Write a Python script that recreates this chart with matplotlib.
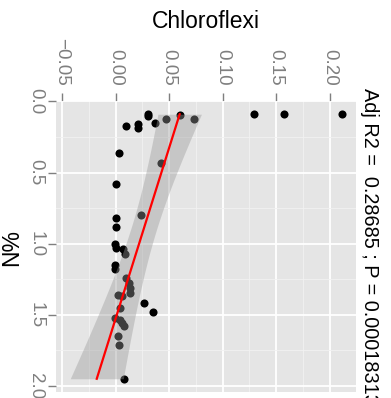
import numpy as np
import matplotlib
matplotlib.use("Agg")
import matplotlib.pyplot as plt
from matplotlib.ticker import FixedLocator

plt.rcParams["font.family"] = ["Liberation Sans", "DejaVu Sans"]

# relative abundance of Chloroflexi vs soil N%
abund = [0.1295, 0.1576, 0.2119, 0.0606, 0.030, 0.030, 0.073, 0.047, 0.0365,
         0.021, 0.021, 0.0094, 0.003, 0.0428, 0.0, 0.024, 0.0, 0.0,
         -0.001, 0.0006, 0.0069, 0.0084, -0.001, -0.001, 0.010, 0.0125,
         0.013, 0.0135, 0.002, 0.0063, 0.027, 0.035, 0.0044, -0.001,
         0.0037, 0.0063, 0.0075, 0.002, 0.003, 0.0075]
n_pct = [0.09, 0.09, 0.09, 0.098, 0.09, 0.10, 0.126, 0.126, 0.15,
         0.157, 0.19, 0.17, 0.36, 0.43, 0.578, 0.80, 0.82, 0.88,
         1.00, 1.03, 1.04, 1.07, 1.15, 1.18, 1.24, 1.28,
         1.31, 1.35, 1.36, 1.37, 1.42, 1.48, 1.45, 1.52,
         1.54, 1.56, 1.58, 1.65, 1.71, 1.95]

xticks = [-0.05, 0.00, 0.05, 0.10, 0.15, 0.20]
xticklabels = ["\u22120.05", "0.00", "0.05", "0.10", "0.15", "0.20"]
yticks = [0.0, 0.5, 1.0, 1.5, 2.0]
yticklabels = ["0.0", "0.5", "1.0", "1.5", "2.0"]
stats_label = "Adj R2 =  0.28685 ; P = 0.00018313"

x = np.array(abund)
N = np.array(n_pct)

# linear fit abund ~ N with 95% confidence band
b, a = np.polyfit(N, x, 1)
n = len(N)
resid = x - (a + b * N)
s = np.sqrt(np.sum(resid ** 2) / (n - 2))
sxx = np.sum((N - N.mean()) ** 2)
t = 2.024
ngrid = np.linspace(N.min(), N.max(), 80)
fit = a + b * ngrid
se = s * np.sqrt(1 / n + (ngrid - N.mean()) ** 2 / sxx)

fig = plt.figure(figsize=(3.91, 3.98), dpi=100)
ax = fig.add_axes([56 / 391, 6 / 398, 300 / 391, 291 / 398])
ax.set_facecolor("#E5E5E5")

ax.scatter(x, N, s=34, color="black", zorder=3, linewidths=0)
ax.fill_betweenx(ngrid, fit - t * se, fit + t * se, color="#999999", alpha=0.4,
                 linewidth=0, zorder=4)
ax.plot(fit, ngrid, color="red", linewidth=1.6, zorder=5)

ax.set_xlim(-0.0557, 0.2247)
ax.set_ylim(2.043, -0.003)

ax.xaxis.tick_top()
ax.set_xticks(xticks)
ax.set_xticklabels(xticklabels, rotation=-90, va="bottom", ha="center")
ax.set_yticks(yticks)
ax.set_yticklabels(yticklabels, rotation=-90, va="center", ha="right")
ax.xaxis.set_minor_locator(FixedLocator([-0.025, 0.025, 0.075, 0.125, 0.175]))
ax.yaxis.set_minor_locator(FixedLocator([0.25, 0.75, 1.25, 1.75]))
ax.tick_params(which="major", length=6, width=1, color="#7f7f7f",
               labelcolor="#7f7f7f", labelsize=13.5)
ax.tick_params(axis="x", which="major", pad=5)
ax.tick_params(axis="y", which="major", pad=2.5)
ax.tick_params(which="minor", length=0)
ax.grid(True, which="major", color="white", linewidth=1.3, zorder=0)
ax.grid(True, which="minor", color="#F2F2F2", linewidth=0.6, zorder=0)
ax.set_axisbelow(True)
for sp in ax.spines.values():
    sp.set_visible(False)

fig.text(206 / 391, 1 - 22 / 398, "Chloroflexi", ha="center", va="center",
         fontsize=16.5)
fig.text(12 / 391, 1 - 247 / 398, "N%", ha="center", va="center",
         rotation=90, fontsize=16.5)
fig.text(369 / 391, 1 - 246 / 398, stats_label, ha="center", va="center",
         rotation=-90, fontsize=14.3)

fig.savefig("out.png", dpi=100)
